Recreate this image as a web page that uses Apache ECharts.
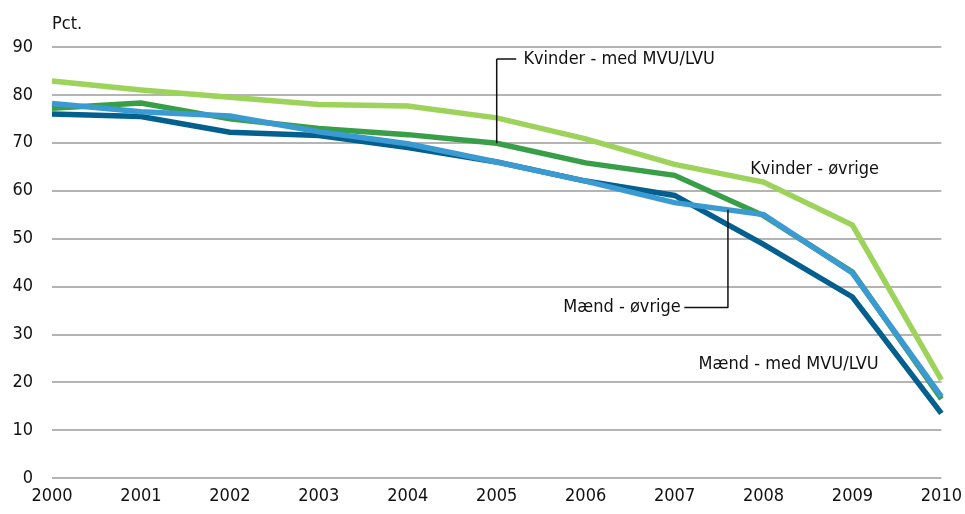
<!DOCTYPE html>
<html><head><meta charset="utf-8">
<script src="https://cdn.jsdelivr.net/npm/echarts@6/dist/echarts.min.js"></script>
<style>html,body{margin:0;padding:0;background:#fff}#c{width:965px;height:514px}</style>
</head><body><div id="c"></div>
<script>
var years = [2000,2001,2002,2003,2004,2005,2006,2007,2008,2009,2010];
var kvinderOevrige = [82.9,81.0,79.5,78.0,77.7,75.2,70.8,65.5,61.8,52.8,20.5];
var kvinderMVU = [77.2,78.3,75.0,73.0,71.7,69.9,65.8,63.2,54.8,43.0,16.5];
var maendMVU = [76.0,75.5,72.2,71.5,69.0,66.0,62.0,59.0,48.8,37.8,13.5];
var maendOevrige = [78.2,76.5,75.6,72.3,69.8,66.0,62.0,57.5,55.0,42.8,17.0];
var yTicks = [0,10,20,30,40,50,60,70,80,90];

var FONT = "'DejaVu Sans Condensed','Liberation Sans Narrow','Open Sans',sans-serif";
var FS = 18;
function pairs(a){return years.map(function(y,i){return [y,a[i]];});}
var chart = echarts.init(document.getElementById('c'));
function ser(name,data,color,z){
  return {name:name,type:'line',data:pairs(data),symbol:'none',smooth:false,z:z,
    lineStyle:{color:color,width:5.5,cap:'butt',join:'miter'}};
}
var series = [
  ser('Kvinder - øvrige',kvinderOevrige,'#9dd35a',2),
  ser('Kvinder - med MVU/LVU',kvinderMVU,'#389e47',3),
  ser('Mænd - med MVU/LVU',maendMVU,'#035f8e',4),
  ser('Mænd - øvrige',maendOevrige,'#3b9ad2',5)
];
// leader lines (in data coordinates)
series.push({type:'line',data:[[2005,87.5],[2005,kvinderMVU[5]]],symbol:'none',z:6,silent:true,
  lineStyle:{color:'#111',width:1.5}});
series.push({type:'line',data:[[2005,87.5],[2005.22,87.5]],symbol:'none',z:6,silent:true,
  lineStyle:{color:'#111',width:1.5}});
series.push({type:'line',data:[[2007.6,56.0],[2007.6,35.6],[2007.11,35.6]],symbol:'none',z:6,silent:true,
  lineStyle:{color:'#111',width:1.5}});

chart.setOption({
  animation:false,
  grid:{left:52,right:20,top:47,bottom:36,containLabel:false},
  xAxis:{type:'value',min:2000,max:2010,interval:1,
    axisLine:{show:false},axisTick:{show:false},splitLine:{show:false},
    axisLabel:{color:'#111',fontSize:FS,fontFamily:FONT,margin:9,formatter:function(v){return String(v);}}},
  yAxis:{type:'value',min:0,max:90,interval:10,
    name:'Pct.',nameLocation:'end',nameGap:14,
    nameTextStyle:{color:'#111',fontSize:FS,fontFamily:FONT,align:'left'},
    axisLine:{show:false},axisTick:{show:false},
    axisLabel:{color:'#111',fontSize:FS,fontFamily:FONT,margin:19},
    splitLine:{lineStyle:{color:'#9b9b9b',width:1.5}}},
  series:series
});

function txt(label,x,y,align){
  var p = chart.convertToPixel({gridIndex:0},[x,y]);
  return {type:'text',x:p[0],y:p[1],style:{text:label,fill:'#111',font:FS+'px '+FONT,
    textAlign:align||'left',textVerticalAlign:'middle'}};
}
chart.setOption({graphic:[
  txt('Kvinder - med MVU/LVU',2005.3,87.5),
  txt('Kvinder - øvrige',2007.85,64.5),
  txt('Mænd - øvrige',2007.07,35.6,'right'),
  txt('Mænd - med MVU/LVU',2007.27,23.7)
]});
</script></body></html>
